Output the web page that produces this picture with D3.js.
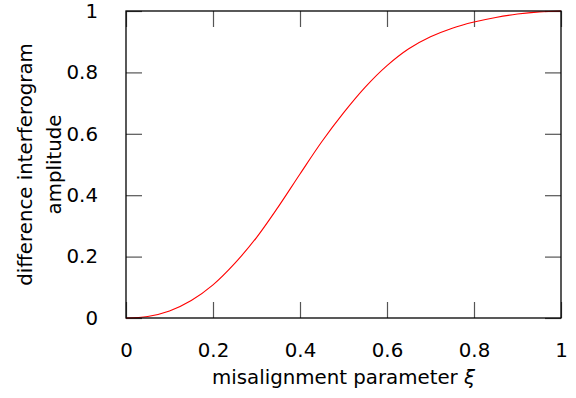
<!DOCTYPE html>
<html>
<head>
<meta charset="utf-8">
<script src="https://cdn.jsdelivr.net/npm/d3@7"></script>
<style>
  html, body { margin: 0; padding: 0; background: #fff; }
  svg { display: block; }
  text { font-family: "DejaVu Sans", sans-serif; fill: #000; }
</style>
</head>
<body>
<svg id="chart" width="576" height="398"></svg>
<script>
// misalignment parameter ξ
const xi = [0, 0.05, 0.1, 0.15, 0.2, 0.25, 0.3, 0.35, 0.4, 0.45, 0.5,
            0.55, 0.6, 0.65, 0.7, 0.75, 0.8, 0.85, 0.9, 0.95, 1];
// difference interferogram amplitude
const amplitude = [0, 0.005, 0.023, 0.057, 0.108, 0.178, 0.262, 0.362, 0.469, 0.574, 0.668,
                   0.752, 0.822, 0.877, 0.916, 0.944, 0.964, 0.979, 0.990, 0.997, 1];

const xTicks = [0, 0.2, 0.4, 0.6, 0.8, 1];
const yTicks = [0, 0.2, 0.4, 0.6, 0.8, 1];
const tickLabel = d => (d === 0 || d === 1) ? String(d) : d.toFixed(1);

const xLabel = "misalignment parameter ";
const xSymbol = "ξ";
const yLabelLines = ["difference interferogram", "amplitude"];

const margin = { left: 126, right: 15, top: 11, bottom: 80 };
const W = 576, H = 398;
const pw = W - margin.left - margin.right;
const ph = H - margin.top - margin.bottom;

const svg = d3.select("#chart");
const g = svg.append("g").attr("transform", `translate(${margin.left},${margin.top})`);

const x = d3.scaleLinear().domain([0, 1]).range([0, pw]);
const y = d3.scaleLinear().domain([0, 1]).range([ph, 0]);

const fs = 19.8;
const tickLen = 16;

function styleAxis(sel) {
  sel.select(".domain").remove();
  sel.selectAll(".tick line").attr("stroke", "#555").attr("stroke-width", 1.2);
  sel.selectAll(".tick text").style("font-size", fs + "px").attr("fill", "#000");
}

// bottom axis with labels, inward ticks
g.append("g").attr("transform", `translate(0,${ph})`)
  .call(d3.axisBottom(x).tickValues(xTicks).tickFormat(tickLabel)
    .tickSizeInner(-tickLen).tickSizeOuter(0).tickPadding(tickLen + 9))
  .call(styleAxis);
// top mirror ticks
g.append("g")
  .call(d3.axisTop(x).tickValues(xTicks).tickFormat("")
    .tickSizeInner(-tickLen).tickSizeOuter(0))
  .call(styleAxis);
// left axis with labels
g.append("g")
  .call(d3.axisLeft(y).tickValues(yTicks).tickFormat(tickLabel)
    .tickSizeInner(-tickLen).tickSizeOuter(0).tickPadding(tickLen + 12))
  .call(styleAxis);
// right mirror ticks
g.append("g").attr("transform", `translate(${pw},0)`)
  .call(d3.axisRight(y).tickValues(yTicks).tickFormat("")
    .tickSizeInner(-tickLen).tickSizeOuter(0))
  .call(styleAxis);

// curve
const pts = xi.map((v, i) => [v, amplitude[i]]);
g.append("path")
  .datum(pts)
  .attr("fill", "none")
  .attr("stroke", "#ff0000")
  .attr("stroke-width", 1.1)
  .attr("d", d3.line().x(d => x(d[0])).y(d => y(d[1])).curve(d3.curveCatmullRom.alpha(0.5)));

// frame
g.append("rect")
  .attr("x", 0).attr("y", 0).attr("width", pw).attr("height", ph)
  .attr("fill", "none").attr("stroke", "#000").attr("stroke-width", 1.3);

// x axis title
const xt = svg.append("text")
  .attr("x", margin.left + pw / 2)
  .attr("y", 384)
  .attr("text-anchor", "middle")
  .style("font-size", fs + "px");
xt.append("tspan").text(xLabel);
xt.append("tspan").style("font-style", "italic").text(xSymbol);

// y axis title (two lines, rotated)
const yt = svg.append("text")
  .attr("transform", `translate(0,${margin.top + ph / 2}) rotate(-90)`)
  .attr("text-anchor", "middle")
  .style("font-size", fs + "px");
yt.selectAll("tspan").data(yLabelLines).join("tspan")
  .attr("x", 0)
  .attr("y", (d, i) => 32 + i * 29)
  .text(d => d);
</script>
</body>
</html>
